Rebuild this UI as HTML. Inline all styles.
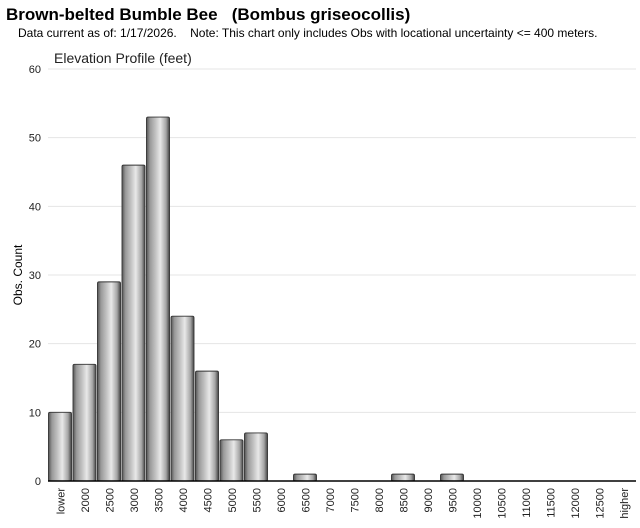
<!DOCTYPE html>
<html><head><meta charset="utf-8"><style>
body{margin:0;background:#fff;font-family:"Liberation Sans",sans-serif;}
</style></head><body>
<svg width="640" height="523" xmlns="http://www.w3.org/2000/svg">
<defs>
<linearGradient id="g" x1="0" x2="1" y1="0" y2="0">
<stop offset="0" stop-color="#555"/><stop offset="0.15" stop-color="#999"/><stop offset="0.35" stop-color="#bbb"/><stop offset="0.6" stop-color="#e8e8e8"/><stop offset="0.85" stop-color="#a5a5a5"/><stop offset="1" stop-color="#444"/>
</linearGradient>
</defs>
<text x="6" y="20" font-size="17" font-weight="bold" xml:space="preserve">Brown-belted Bumble Bee   (Bombus griseocollis)</text>
<text x="18" y="37" font-size="12" xml:space="preserve">Data current as of: 1/17/2026.    Note: This chart only includes Obs with locational uncertainty &lt;= 400 meters.</text>
<text x="54" y="63" font-size="14" fill="#222">Elevation Profile (feet)</text>
<text transform="translate(22,275) rotate(-90)" font-size="12" text-anchor="middle">Obs. Count</text>
<g id="grid"></g><g id="bars"></g><g id="axes"></g>
</svg>
<script>
const categories=["lower","2000","2500","3000","3500","4000","4500","5000","5500","6000","6500","7000","7500","8000","8500","9000","9500","10000","10500","11000","11500","12000","12500","higher"];
const counts=[10,17,29,46,53,24,16,6,7,0,1,0,0,0,1,0,1,0,0,0,0,0,0,0];
const yTicks=[0,10,20,30,40,50,60];
const NS="http://www.w3.org/2000/svg";
const x0=48,x1=636,y0=481,yTop=69,yMax=60;
const bw=(x1-x0)/categories.length;
const y=v=>y0-(v/yMax)*(y0-yTop);
const x=i=>x0+i*bw;
function mk(t,a,p){const e=document.createElementNS(NS,t);for(const k in a)e.setAttribute(k,a[k]);p.appendChild(e);return e;}
const grid=document.getElementById('grid'),bars=document.getElementById('bars'),axes=document.getElementById('axes');
yTicks.forEach(v=>{
 const l=mk('line',{x1:x0,x2:x1,y1:y(v),y2:y(v),stroke:'#e4e4e4'},grid);
 
 
 const t=mk('text',{x:x0-7,y:y(v)+4,'font-size':11,'text-anchor':'end',fill:'#222'},axes);
 t.textContent=v;
 
 
});
categories.forEach((c,i)=>{
 const v=counts[i];
 if(v>0){
  const r=mk('rect',{x:x(i)+0.5,y:y(v),width:bw-1.5,height:y0-y(v),fill:'url(#g)',stroke:'#333','stroke-width':0.9,rx:1.5},bars);
  
  
 }
 const cx=x(i)+bw/2;
 const t=mk('text',{transform:`translate(${cx+4},${y0+7}) rotate(-90)`,'font-size':11,'text-anchor':'end',fill:'#222'},axes);
 t.textContent=c;
 
 
});
const ax=mk('line',{x1:x0,x2:x1,y1:y0,y2:y0,stroke:'#000','stroke-width':1.5},axes);


</script>
</body></html>
